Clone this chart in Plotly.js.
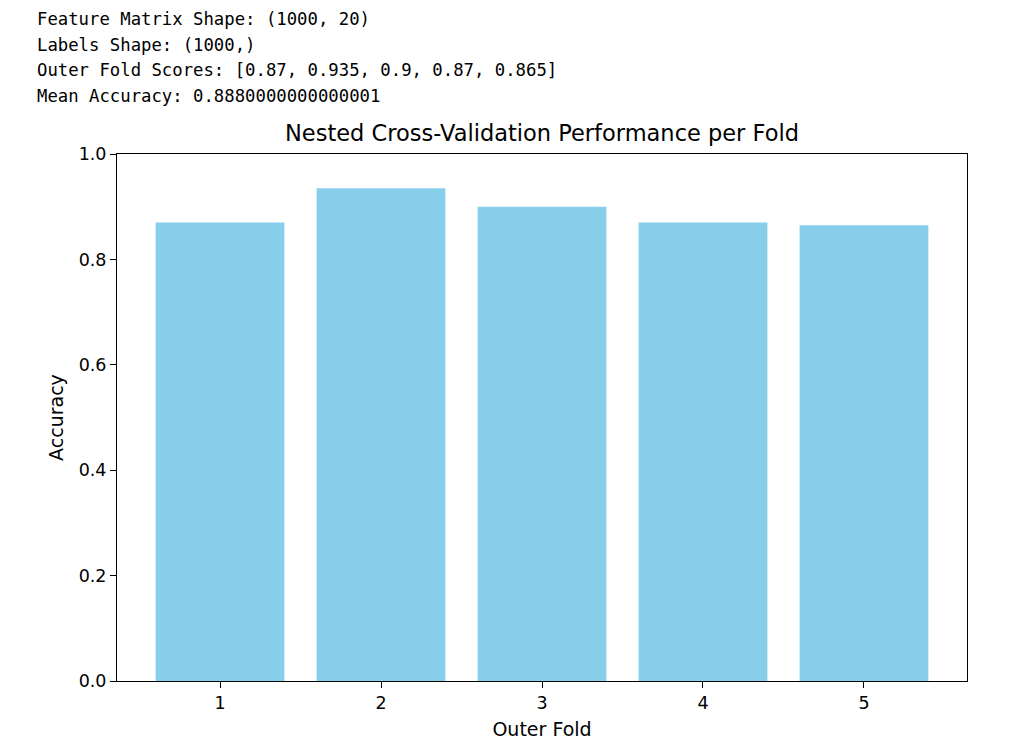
<!DOCTYPE html>
<html>
<head>
<meta charset="utf-8">
<script src="https://cdn.plot.ly/plotly-3.0.1.min.js"></script>
<style>
  html, body { margin: 0; padding: 0; background: #fff; }
  #chart { width: 1024px; height: 747px; }
</style>
</head>
<body>
<div id="chart"></div>
<script>
// outer fold scores from nested CV
var folds = [1, 2, 3, 4, 5];
var scores = [0.87, 0.935, 0.9, 0.87, 0.865];
var yTicks = [0.0, 0.2, 0.4, 0.6, 0.8, 1.0];

// console output printed above the figure
var consoleLines = [
  'Feature Matrix Shape: (1000, 20)',
  'Labels Shape: (1000,)',
  'Outer Fold Scores: [0.87, 0.935, 0.9, 0.87, 0.865]',
  'Mean Accuracy: 0.8880000000000001'
];

// plot area in pixels
var L = 117, R = 967, T = 154, B = 681;
var W = R - L, H = B - T;

var annotationContent = [];
for (var i = 0; i < consoleLines.length; i++) {
  annotationContent.push({
    text: consoleLines[i],
    xref: 'paper', yref: 'paper',
    x: (35 - L) / W,
    y: (B - (19 + i * 25.7)) / H,
    xanchor: 'left', yanchor: 'middle',
    showarrow: false,
    font: { family: 'DejaVu Sans Mono, Liberation Mono, monospace', size: 17.3, color: '#000' }
  });
}

var bars = {
  x: folds,
  y: scores,
  type: 'bar',
  width: 0.8,
  marker: { color: 'skyblue', line: { width: 0 } },
  hoverinfo: 'x+y'
};

var layout = {
  width: 1024,
  height: 747,
  margin: { l: L, r: 1024 - R, t: T, b: 747 - B, pad: 0 },
  paper_bgcolor: '#fff',
  plot_bgcolor: '#fff',
  showlegend: false,
  font: { family: 'DejaVu Sans, sans-serif', size: 17.5, color: '#000' },
  title: {
    text: 'Nested Cross-Validation Performance per Fold',
    font: { size: 22.5, color: '#000' },
    x: (L + W / 2) / 1024, xanchor: 'center',
    y: 1 - 133 / 747, yanchor: 'middle'
  },
  xaxis: {
    range: [0.36, 5.64],
    tickvals: folds,
    ticktext: folds.map(String),
    ticks: 'outside', ticklen: 6, tickwidth: 1, tickcolor: '#000',
    showline: true, linecolor: '#000', linewidth: 1, mirror: true,
    showgrid: false, zeroline: false,
    title: { text: 'Outer Fold', font: { size: 19 }, standoff: 10 }
  },
  yaxis: {
    range: [0, 1.0],
    tickvals: yTicks,
    ticktext: yTicks.map(function (v) { return v.toFixed(1); }),
    ticks: 'outside', ticklen: 6, tickwidth: 1, tickcolor: '#000',
    showline: true, linecolor: '#000', linewidth: 1, mirror: true,
    showgrid: false, zeroline: false,
    title: { text: 'Accuracy', font: { size: 19 }, standoff: 10 }
  },
  annotations: annotationContent
};

Plotly.newPlot('chart', [bars], layout, { displayModeBar: false, staticPlot: true });
</script>
</body>
</html>
